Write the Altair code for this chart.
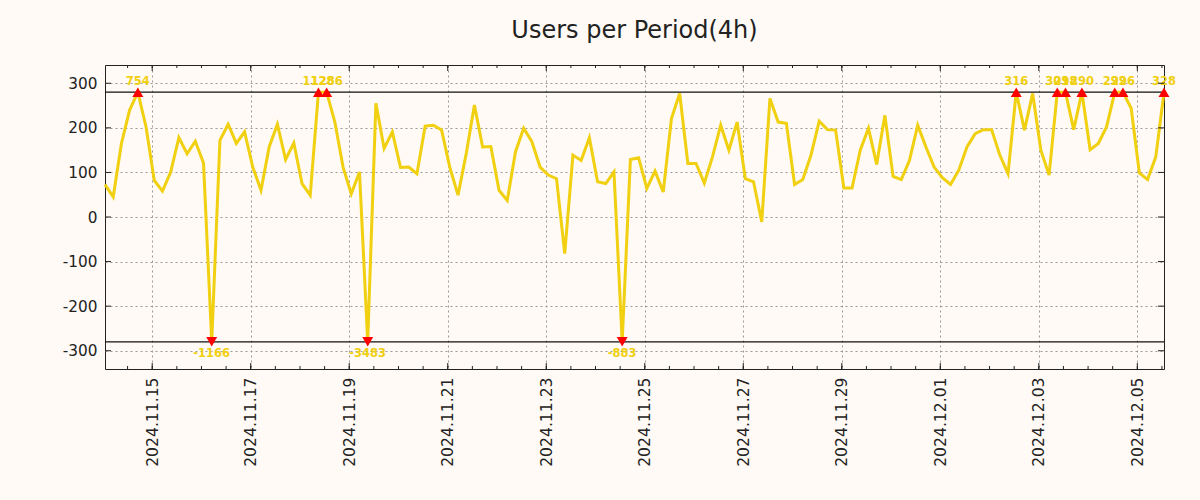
import altair as alt
import pandas as pd

chart_title = "Users per Period(4h)"
first_period = "2024-11-14T01:00:00"
period_hours = 4
users = [
    73, 45, 165, 240, 754, 202, 82, 58, 101, 178,
    142, 170, 121, -1166, 172, 208, 165, 191, 112, 60,
    157, 208, 129, 166, 75, 49, 1128, 1286, 213, 112,
    52, 101, -3483, 255, 154, 191, 111, 112, 97, 204,
    206, 195, 112, 49, 142, 251, 157, 158, 60, 37,
    146, 199, 169, 112, 94, 86, -82, 139, 127, 178,
    79, 75, 101, -883, 129, 133, 64, 103, 56, 221,
    277, 120, 120, 76, 135, 206, 150, 213, 86, 79,
    -11, 266, 213, 210, 73, 84, 139, 215, 196, 195,
    65, 65, 150, 199, 118, 228, 91, 84, 127, 206,
    157, 112, 88, 73, 105, 157, 187, 196, 196, 139,
    97, 316, 195, 277, 150, 94, 301, 298, 196, 290,
    151, 165, 202, 292, 296, 244, 99, 84, 135, 328,
]
clip_at = 280
y_tick_values = [-300, -200, -100, 0, 100, 200, 300]
x_label_dates = ["2024-11-15", "2024-11-17", "2024-11-19", "2024-11-21",
                 "2024-11-23", "2024-11-25", "2024-11-27", "2024-11-29",
                 "2024-12-01", "2024-12-03", "2024-12-05"]
x_minor_first = "2024-11-14T12:00:00"
x_minor_last = "2024-12-05T12:00:00"

W, H = 1059, 304
BG = "#fffaf5"
LINE = "#f0d010"
INK = "#222222"
FONT = "DejaVu Sans"


def iso(ts):
    return ts.strftime("%Y-%m-%dT%H:%M:%SZ")


def ms(ts):
    return int(ts.timestamp() * 1000)


times = pd.date_range(first_period, periods=len(users), freq=f"{period_hours}h", tz="UTC")
df = pd.DataFrame({"t": [iso(t) for t in times], "users": users})
df["shown"] = df["users"].clip(-clip_at, clip_at)
df["label"] = df["users"].astype(str)
top_out = df[df["users"] > clip_at]
bot_out = df[df["users"] < -clip_at]

major = pd.to_datetime(x_label_dates).tz_localize("UTC")
minor = pd.date_range(x_minor_first, x_minor_last, freq="12h", tz="UTC")
major_df = pd.DataFrame({"t": [iso(t) for t in major]})
minor_df = pd.DataFrame({"t": [iso(t) for t in minor]})
ytick_df = pd.DataFrame({"v": y_tick_values})
clip_df = pd.DataFrame({"v": [clip_at, -clip_at]})

xscale = alt.Scale(type="utc", domain=[ms(times[0]), ms(times[-1])], nice=False)
yscale = alt.Scale(domain=[-341, 341], nice=False, zero=False)

xaxis = alt.Axis(values=[ms(t) for t in major], format="%Y.%m.%d", labelAngle=270,
                 labelFont=FONT, labelFontSize=15.6, labelColor=INK, labelPadding=8,
                 labelOverlap=False, labelFlush=False, ticks=False, domain=False,
                 grid=True, gridDash=[2, 3], gridColor="#999999", gridWidth=1, title=None)
yaxis = alt.Axis(values=y_tick_values, labelFont=FONT, labelFontSize=15.3, labelColor=INK,
                 labelPadding=8, labelExpr="'' + datum.value", ticks=False, domain=False,
                 grid=True, gridDash=[2, 3], gridColor="#999999", gridWidth=1, title=None)


def X(field="t"):
    return alt.X(f"{field}:T", scale=xscale, axis=xaxis)


def Y(field):
    return alt.Y(f"{field}:Q", scale=yscale, axis=yaxis)


line = alt.Chart(df).mark_line(color=LINE, strokeWidth=3).encode(x=X(), y=Y("shown"))

clip_lines = alt.Chart(clip_df).mark_rule(color="#111111", strokeWidth=1.2).encode(y=Y("v"))

tri_up = alt.Chart(top_out).mark_point(shape="triangle-up", filled=True, color="#ff0000",
                                       size=120, opacity=1).encode(x=X(), y=Y("shown"))
tri_dn = alt.Chart(bot_out).mark_point(shape="triangle-down", filled=True, color="#ff0000",
                                       size=120, opacity=1).encode(x=X(), y=Y("shown"))
lab_up = alt.Chart(top_out).mark_text(font=FONT, fontSize=11.5, fontWeight="bold", color=LINE,
                                      dy=-10, baseline="middle").encode(x=X(), y=Y("shown"), text="label:N")
lab_dn = alt.Chart(bot_out).mark_text(font=FONT, fontSize=11.5, fontWeight="bold", color=LINE,
                                      dy=12, baseline="middle").encode(x=X(), y=Y("shown"), text="label:N")

xmaj_b = alt.Chart(major_df).mark_rule(color=INK).encode(x=X(), y=alt.value(H), y2=alt.value(H - 6))
xmaj_t = alt.Chart(major_df).mark_rule(color=INK).encode(x=X(), y=alt.value(0), y2=alt.value(6))
xmin_b = alt.Chart(minor_df).mark_rule(color=INK).encode(x=X(), y=alt.value(H), y2=alt.value(H - 3))
xmin_t = alt.Chart(minor_df).mark_rule(color=INK).encode(x=X(), y=alt.value(0), y2=alt.value(3))
ytk_l = alt.Chart(ytick_df).mark_rule(color=INK).encode(y=Y("v"), x=alt.value(0), x2=alt.value(6))
ytk_r = alt.Chart(ytick_df).mark_rule(color=INK).encode(y=Y("v"), x=alt.value(W), x2=alt.value(W - 6))

chart = alt.layer(
    clip_lines, line, tri_up, tri_dn, lab_up, lab_dn,
    xmaj_b, xmaj_t, xmin_b, xmin_t, ytk_l, ytk_r,
).properties(
    width=W, height=H,
    title=alt.TitleParams(text=chart_title, font=FONT, fontSize=24, fontWeight="normal",
                          color=INK, anchor="middle", offset=22),
    padding={"left": 105, "top": 65, "right": 36, "bottom": 131},
    autosize=alt.AutoSizeParams(type="none"),
    background=BG,
).configure_view(stroke=INK, strokeWidth=1)

chart.save("out.html", embed_options={"renderer": "svg", "actions": False})
